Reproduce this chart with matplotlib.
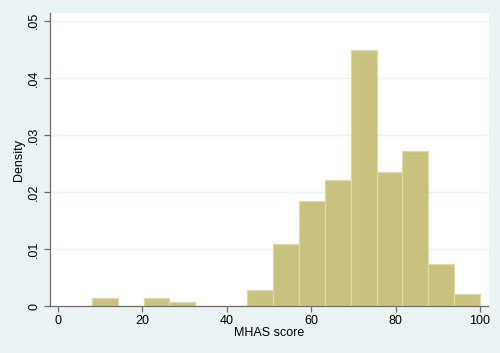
import numpy as np
import matplotlib
matplotlib.use("Agg")
import matplotlib.pyplot as plt

plt.rcParams['font.family'] = ['Liberation Sans', 'DejaVu Sans']

# histogram bins (MHAS score) and densities
bin_start = 8.0
bin_end = 100.0
n_bins = 15
density = [0.00147, 0.0, 0.00147, 0.00074, 0.0, 0.0, 0.00294,
           0.0110, 0.0184, 0.0221, 0.0449, 0.0235, 0.0272, 0.0074, 0.0022]

x_ticks = [0, 20, 40, 60, 80, 100]
y_ticks = [0, 0.01, 0.02, 0.03, 0.04, 0.05]
y_tick_labels = ['0', '.01', '.02', '.03', '.04', '.05']

bg = '#EAF2F3'
fill = '#C9C27E'
edge = '#DEDAA6'
axis_col = '#6E6E6E'

edges = np.linspace(bin_start, bin_end, n_bins + 1)
width = edges[1] - edges[0]

fig = plt.figure(figsize=(5, 3.53), dpi=100, facecolor=bg)
ax = fig.add_axes([0.1, 0.132, 0.877, 0.831])
ax.set_facecolor('white')

ax.bar(edges[:-1], density, width=width, align='edge',
       color=fill, edgecolor=edge, linewidth=0.9, zorder=2)

ax.set_xlim(-1.9, 102.0)
ax.set_ylim(0, 0.05135)

ax.set_xticks(x_ticks)
ax.set_yticks(y_ticks)
ax.set_yticklabels(y_tick_labels, rotation=90, va='center')

for y in y_ticks[1:]:
    ax.axhline(y, color=bg, lw=1.0, zorder=1)

for s in ['top', 'right']:
    ax.spines[s].set_visible(False)
for s in ['left', 'bottom']:
    ax.spines[s].set_color(axis_col)
    ax.spines[s].set_linewidth(0.9)

ax.tick_params(axis='both', colors=axis_col, labelcolor='black',
               length=4, width=0.9, labelsize=9, direction='out')
ax.tick_params(axis='y', pad=3)
ax.tick_params(axis='x', pad=2)

ax.set_xlabel('MHAS score', fontsize=9, labelpad=0)
ax.set_ylabel('Density', fontsize=9, labelpad=2)

fig.savefig('out.png', dpi=100, facecolor=bg)
